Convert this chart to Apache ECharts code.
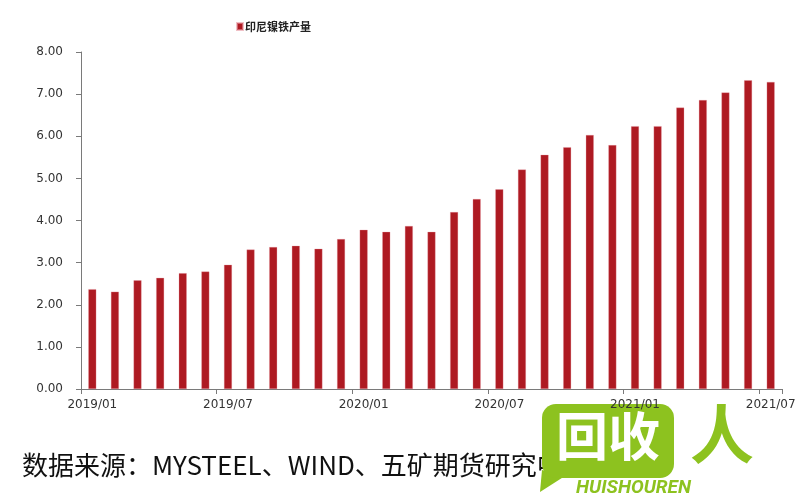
<!DOCTYPE html>
<html>
<head>
<meta charset="utf-8">
<script src="https://cdn.jsdelivr.net/npm/echarts@6/dist/echarts.min.js"></script>
<style>html,body{margin:0;padding:0;background:#fff}#c{width:800px;height:500px}</style>
</head>
<body>
<div id="c"></div>
<script>
const seriesName = '印尼镍铁产量';
const months = ['2019/01','2019/02','2019/03','2019/04','2019/05','2019/06','2019/07','2019/08','2019/09','2019/10','2019/11','2019/12',
  '2020/01','2020/02','2020/03','2020/04','2020/05','2020/06','2020/07','2020/08','2020/09','2020/10','2020/11','2020/12',
  '2021/01','2021/02','2021/03','2021/04','2021/05','2021/06','2021/07'];
const output = [2.37,2.31,2.58,2.64,2.75,2.79,2.95,3.31,3.37,3.40,3.33,3.56,
  3.78,3.73,3.87,3.73,4.20,4.51,4.74,5.21,5.56,5.74,6.03,5.79,
  6.24,6.24,6.68,6.86,7.04,7.33,7.29];
const sourceText = '数据来源：MYSTEEL、WIND、五矿期货研究中心';

const chart = echarts.init(document.getElementById('c'), null, {renderer: 'canvas'});
chart.setOption({
  animation: false,
  backgroundColor: '#fff',
  textStyle: {fontFamily: '"Noto Sans CJK SC", "Noto Sans", sans-serif'},
  legend: {
    left: 231, top: 16,
    itemWidth: 6, itemHeight: 7, itemGap: 10,
    icon: 'rect',
    textStyle: {fontSize: 11, fontWeight: 'bold', color: '#222', padding: [0, 0, 0, -3]},
    data: [seriesName]
  },
  grid: {left: 81, right: 18, top: 52, bottom: 111, containLabel: false},
  xAxis: {
    type: 'category',
    data: months,
    boundaryGap: true,
    axisLine: {lineStyle: {color: '#7a7a7a', width: 1}},
    axisTick: {show: true, interval: 5, length: 5, lineStyle: {color: '#7a7a7a'}},
    axisLabel: {interval: 5, fontSize: 12, color: '#333', margin: 10, fontFamily: '"DejaVu Sans", sans-serif'}
  },
  yAxis: {
    type: 'value',
    min: 0, max: 8, interval: 1,
    splitLine: {show: false},
    axisLine: {show: true, lineStyle: {color: '#7a7a7a', width: 1}},
    axisTick: {show: true, length: 5, inside: false, lineStyle: {color: '#7a7a7a'}},
    axisLabel: {fontSize: 12, color: '#333', margin: 18, formatter: v => v.toFixed(2), fontFamily: '"DejaVu Sans", sans-serif'}
  },
  series: [{
    name: seriesName,
    type: 'bar',
    data: output,
    barWidth: 8,
    itemStyle: {color: '#AE1A22', borderColor: 'rgba(230,150,160,0.6)', borderWidth: 0.5}
  }],
  graphic: [
    {type: 'text', left: 22, top: 452, style: {text: sourceText, fontSize: 26, fill: '#111', fontFamily: '"Noto Sans CJK SC", sans-serif'}},
    {type: 'polygon', shape: {points: [[542,470],[540,492],[565,476]]}, style: {fill: '#8DC21F'}},
    {type: 'rect', shape: {x: 542, y: 404, width: 132, height: 74, r: 14}, style: {fill: '#8DC21F'}},
    {type: 'text', left: 556, top: 410, style: {text: '回收', fontSize: 52, fontWeight: 'bold', fill: '#fff', fontFamily: '"Noto Sans CJK SC", sans-serif'}},
    {type: 'text', left: 690, top: 402, style: {text: '人', fontSize: 64, fontWeight: 'bold', fill: '#8DC21F', fontFamily: '"Noto Sans CJK SC", sans-serif'}},
    {type: 'text', left: 576, top: 479, style: {text: 'HUISHOUREN', fontSize: 19, fontWeight: 'bold', fontStyle: 'italic', fill: '#8DC21F', fontFamily: 'Roboto, sans-serif'}}
  ]
});
</script>
</body>
</html>
